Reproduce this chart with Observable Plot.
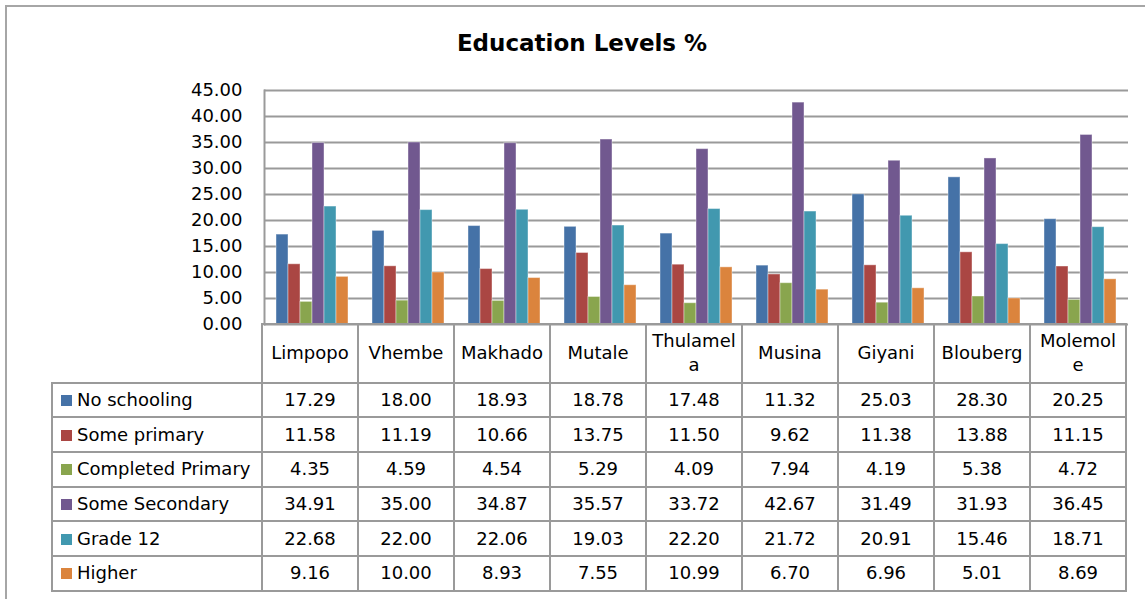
<!DOCTYPE html>
<html><head><meta charset="utf-8">
<script src="https://cdn.jsdelivr.net/npm/d3@7"></script>
<script src="https://cdn.jsdelivr.net/npm/@observablehq/plot@0.6"></script>
<style>
html,body{margin:0;padding:0;background:#fff;overflow:hidden;width:1145px;height:599px;}
body{font-family:"DejaVu Sans",Verdana,sans-serif;position:relative;color:#000;}
#outer{position:absolute;left:5px;top:5px;width:1400px;height:800px;border-left:2px solid #a6a6a6;border-top:2px solid #a6a6a6;}
#title{position:absolute;left:0;top:32px;width:1164px;text-align:center;font-weight:bold;font-size:23px;line-height:23px;}
#chart{position:absolute;left:0;top:0;}
#tbl{position:absolute;left:51px;top:323px;border-collapse:collapse;table-layout:fixed;font-size:18px;}
#tbl td{border:2px solid #9a9a9a;text-align:center;vertical-align:middle;padding:0 5px;word-break:break-all;line-height:24px;}
#tbl td.blank{border:none;}
#tbl td.leg{text-align:left;padding:0;white-space:nowrap;}
#tbl tr.head td{height:56.7px;}
#tbl tr.row td{height:32.7px;}
.sw{display:inline-block;width:11px;height:11px;margin-left:8px;margin-right:5px;vertical-align:0px;}
</style>
</head><body>
<div id="outer"></div>
<div id="chart"></div>
<div id="title">Education Levels %</div>
<script>
const categories = ["Limpopo","Vhembe","Makhado","Mutale","Thulamela","Musina","Giyani","Blouberg","Molemole"];
const series = ["No schooling","Some primary","Completed Primary","Some Secondary","Grade 12","Higher"];
const noSchooling      = [17.29,18.00,18.93,18.78,17.48,11.32,25.03,28.30,20.25];
const somePrimary      = [11.58,11.19,10.66,13.75,11.50,9.62,11.38,13.88,11.15];
const completedPrimary = [4.35,4.59,4.54,5.29,4.09,7.94,4.19,5.38,4.72];
const someSecondary    = [34.91,35.00,34.87,35.57,33.72,42.67,31.49,31.93,36.45];
const grade12          = [22.68,22.00,22.06,19.03,22.20,21.72,20.91,15.46,18.71];
const higher           = [9.16,10.00,8.93,7.55,10.99,6.70,6.96,5.01,8.69];
const yTicks = [0,5,10,15,20,25,30,35,40,45];
const colors = ["#4572A7","#AA4643","#89A54E","#71588F","#4198AF","#DB843D"];

const seriesValues = [noSchooling, somePrimary, completedPrimary, someSecondary, grade12, higher];
const rows = [];
categories.forEach((c, ci) => series.forEach((s, si) => rows.push({category: c, series: s, value: seriesValues[si][ci]})));

const plot = Plot.plot({
  width: 1145, height: 330,
  marginLeft: 262, marginRight: 16, marginTop: 90, marginBottom: 6,
  style: {fontFamily: "DejaVu Sans", fontSize: "18px", background: "transparent", color: "#000", overflow: "visible"},
  fx: {domain: categories, padding: 0, axis: null, label: null},
  x: {domain: series, paddingInner: 0, paddingOuter: 0.75, axis: null},
  y: {domain: [0, 45], label: null},
  color: {domain: series, range: colors},
  marks: [
    Plot.gridY(yTicks, {stroke: "#9a9a9a", strokeOpacity: 1, strokeWidth: 2}),
    Plot.barY(rows, {fx: "category", x: "series", y: "value", fill: "series", stroke: "#ffffff", strokeOpacity: 0.4, strokeWidth: 1}),
    Plot.axisY(yTicks, {tickFormat: d => d.toFixed(2), tickSize: 0, tickPadding: 22, fontSize: 18, label: null}),
    Plot.frame({anchor: "left", stroke: "#9a9a9a", strokeOpacity: 1, strokeWidth: 2, fx: [categories[0]]})
  ]
});
document.getElementById("chart").appendChild(plot);

// data table built from the same arrays, aligned with the fx scale
const fxs = plot.scale("fx");
const left0 = fxs.range[0];
const step = fxs.step;
const tbl = document.createElement("table");
tbl.id = "tbl";
const legW = left0 - 52;
let html = `<colgroup><col style="width:${legW}px">` + categories.map(() => `<col style="width:${step}px">`).join("") + `</colgroup>`;
html += `<tr class="head"><td class="blank"></td>` + categories.map(c => `<td>${c}</td>`).join("") + `</tr>`;
series.forEach((s, si) => {
  html += `<tr class="row"><td class="leg"><span class="sw" style="background:${colors[si]}"></span>${s}</td>` +
    seriesValues[si].map(v => `<td>${v.toFixed(2)}</td>`).join("") + `</tr>`;
});
tbl.innerHTML = html;
tbl.style.width = (legW + step * categories.length) + "px";
document.body.appendChild(tbl);
</script>
</body></html>
